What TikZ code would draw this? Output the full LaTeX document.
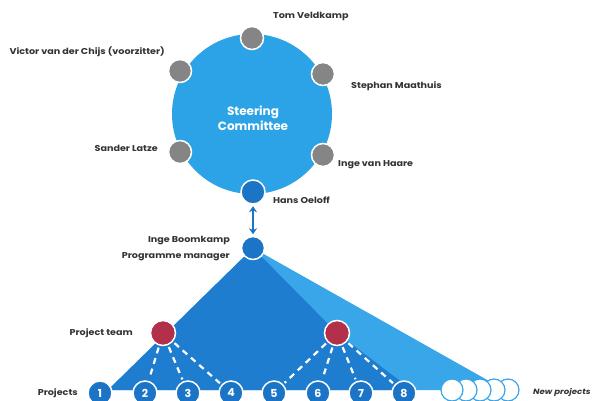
\documentclass[tikz,border=0pt]{standalone}
\usepackage{fontspec}
\setmainfont{Poppins}
\newfontfamily\lblfont{Poppins}[FakeStretch=1.13]
\usetikzlibrary{arrows.meta}
\definecolor{sky}{HTML}{2BA3E6}
\definecolor{tridark}{HTML}{1F7DCF}
\definecolor{trilight}{HTML}{3AA6EA}
\definecolor{dotblue}{HTML}{1C74C6}
\definecolor{teamred}{HTML}{B3304A}
\definecolor{memgrey}{HTML}{858585}
\definecolor{txt}{HTML}{333333}
\begin{document}
\begin{tikzpicture}[x=1pt,y=-1pt,
  member/.style={circle, fill=memgrey, draw=white, line width=1.5pt, minimum size=23pt, inner sep=0pt},
  hub/.style={circle, fill=dotblue, draw=white, line width=1.5pt, minimum size=24pt, inner sep=0pt},
  lbl/.style={font=\lblfont\bfseries\fontsize{8.5}{10}\selectfont, text=txt, inner sep=0pt},
  proj/.style={circle, fill=dotblue, draw=white, line width=1.5pt, minimum size=24pt, inner sep=0pt, text=white, font=\bfseries\fontsize{11}{11}\selectfont},
  team/.style={circle, fill=teamred, draw=white, line width=1.5pt, minimum size=25pt, inner sep=0pt},
  dashline/.style={white, line width=2.2pt, dash pattern=on 6pt off 5pt},
  newp/.style={circle, fill=white, draw=trilight, line width=1.2pt, minimum size=22pt, inner sep=0pt},
  link/.style={dotblue, line width=2.2pt, {Stealth[length=6pt,width=8pt]}-{Stealth[length=6pt,width=8pt]}}
]
\useasboundingbox (0,0) rectangle (595,401);
% positions
\coordinate (cpm) at (253,248);
\coordinate (ct2) at (337,333);
% steering committee
\node[circle, fill=sky, minimum size=160pt, inner sep=0pt] (sc) at (252,114) {};
\node[text=white, font=\bfseries\fontsize{12}{15}\selectfont, align=center] (sct) at (253,118) {Steering\\Committee};
% triangles
\fill[trilight] (cpm) -- (505,390) -- (108,390) -- cycle;
\fill[tridark] (cpm) -- (ct2) -- (412,390) -- (108,390) -- cycle;
% members
\node[member] (tom) at (252,38) {};
\node[member] (victor) at (180,71) {};
\node[member] (stephan) at (323,74) {};
\node[member] (sander) at (180,152) {};
\node[member] (ingevh) at (323,155) {};
\node[hub] (hans) at (253,192) {};
\node[hub, minimum size=23pt] (pm) at (cpm) {};
\draw[link, shorten <=1.5pt, shorten >=1.5pt] (hans) -- (pm);
% labels
\node[lbl, anchor=west] (ltom) at (273,16) {Tom Veldkamp};
\node[lbl, anchor=east] (lvic) at (165,52) {Victor van der Chijs (voorzitter)};
\node[lbl, anchor=west] (lste) at (351,86) {Stephan Maathuis};
\node[lbl, anchor=east] (lsan) at (158,148) {Sander Latze};
\node[lbl, anchor=west] (linge) at (338,165) {Inge van Haare};
\node[lbl, anchor=west] (lhans) at (273,200) {Hans Oeloff};
\node[lbl, anchor=east, align=right, font=\lblfont\bfseries\fontsize{8.5}{16}\selectfont] (lpm) at (230,249) {Inge Boomkamp\\Programme manager};
\node[lbl, anchor=east] (lteam) at (133,333) {Project team};
\node[lbl, anchor=east] (lproj) at (78,393) {Projects};
% new projects
\foreach \x/\n in {508/e,494/d,480/c,466/b,452/a} {
  \node[newp] (new\n) at (\x,390) {};
}
\node[lbl, anchor=west, font=\lblfont\bfseries\itshape\fontsize{7.6}{10}\selectfont] (lnew) at (533,392) {New projects};
% projects
\node[proj] (p1) at (100,393) {1};
\node[proj] (p2) at (145,393) {2};
\node[proj] (p3) at (188,393) {3};
\node[proj] (p4) at (231,393) {4};
\node[proj] (p5) at (274,393) {5};
\node[proj] (p6) at (318,393) {6};
\node[proj] (p7) at (361,393) {7};
\node[proj] (p8) at (404,393) {8};
% project teams
\node[team] (t1) at (163,333) {};
\node[team] (t2) at (ct2) {};
\foreach \p in {1,2,3,4} { \draw[dashline, shorten <=2pt, shorten >=2pt] (t1) -- (p\p); }
\foreach \p in {5,6,7,8} { \draw[dashline, shorten <=2pt, shorten >=2pt] (t2) -- (p\p); }
\end{tikzpicture}
\end{document}
